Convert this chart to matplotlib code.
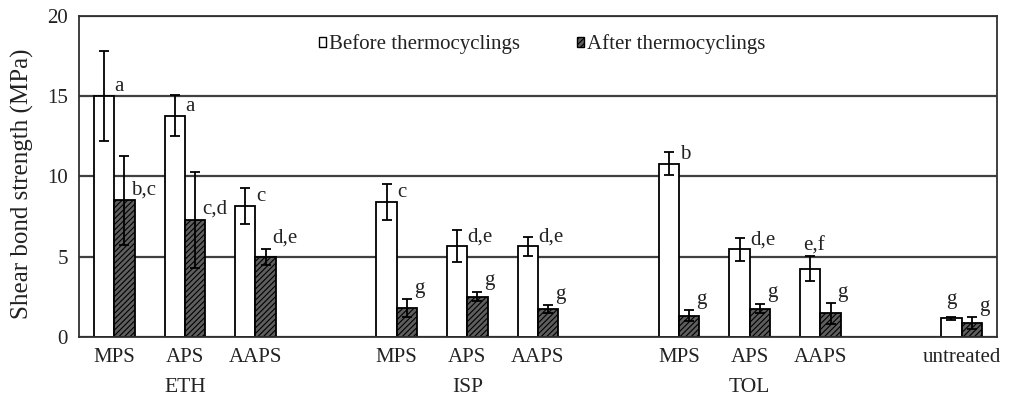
import numpy as np
from matplotlib import pyplot as plt
from matplotlib.patches import Patch

plt.rcParams['font.family'] = ['Liberation Serif', 'DejaVu Serif']
plt.rcParams['hatch.linewidth'] = 0.8

# 13 category slots, empty ones separate the solvent groups
xlabels = ['MPS', 'APS', 'AAPS', '', 'MPS', 'APS', 'AAPS', '', 'MPS', 'APS', 'AAPS', '', 'untreated']
groups = ['ETH', 'ISP', 'TOL']
group_pos = [1, 5, 9]
nan = np.nan
before = [15.0, 13.8, 8.15, nan, 8.4, 5.65, 5.65, nan, 10.8, 5.45, 4.25, nan, 1.15]
before_err = [2.8, 1.3, 1.1, nan, 1.1, 1.0, 0.6, nan, 0.7, 0.7, 0.8, nan, 0.1]
after = [8.5, 7.3, 5.0, nan, 1.8, 2.5, 1.7, nan, 1.3, 1.75, 1.45, nan, 0.85]
after_err = [2.8, 3.0, 0.5, nan, 0.55, 0.3, 0.25, nan, 0.35, 0.3, 0.65, nan, 0.35]
before_lbl = ['a', 'a', 'c', '', 'c', 'd,e', 'd,e', '', 'b', 'd,e', 'e,f', '', 'g']
after_lbl = ['b,c', 'c,d', 'd,e', '', 'g', 'g', 'g', '', 'g', 'g', 'g', '', 'g']

txt = '#222222'
hatch_fc = '#5e5e5e'
w = 0.288
x = np.arange(len(xlabels))

fig = plt.figure(figsize=(10.1, 4.03), dpi=100)
ax = fig.add_axes([0.0782, 0.1645, 0.9088, 0.7955])

err_kw = dict(ecolor='black', elinewidth=1.3, capsize=3.5, capthick=1.3)
ax.bar(x - w / 2, before, w, yerr=before_err, color='white', edgecolor='black',
       linewidth=1.3, error_kw=err_kw, zorder=2)
ax.bar(x + w / 2, after, w, yerr=after_err, color=hatch_fc, edgecolor='black',
       linewidth=1.3, hatch='//////', error_kw=err_kw, zorder=2)

# significance letters
lbl_kw = dict(va='baseline', fontsize=15, color=txt)
for i in range(len(x)):
    if before_lbl[i]:
        top = before[i] + before_err[i]
        if before_lbl[i] == 'e,f':
            ax.text(x[i] - w / 2 + 0.06, top + 0.35, before_lbl[i], ha='center', **lbl_kw)
        elif before_err[i] < 0.3:
            # tiny bar: letter sits above it
            ax.text(x[i] - w / 2, top + 0.8, before_lbl[i], ha='center', **lbl_kw)
        else:
            ax.text(x[i] - w / 2 + 0.15, before[i] + 0.3, before_lbl[i], ha='left', **lbl_kw)
    if after_lbl[i]:
        top = after[i] + after_err[i]
        y = after[i] + 0.38
        if -0.3 < top - y < 1.0:
            y = top + 0.4
        ax.text(x[i] + w / 2 + 0.1, y, after_lbl[i], ha='left', **lbl_kw)

ax.set_xlim(-0.5, len(xlabels) - 0.5)
ax.set_ylim(0, 20)
ax.set_yticks([0, 5, 10, 15, 20])
ax.set_xticks(x)
ax.set_xticklabels(xlabels)
ax.tick_params(axis='both', length=0, labelsize=15, labelcolor=txt)
ax.tick_params(axis='y', pad=8)
ax.tick_params(axis='x', pad=8)
ax.set_axisbelow(True)
ax.yaxis.grid(True, color='#404040', linewidth=1.6)
for s in ax.spines.values():
    s.set_color('#303030')
    s.set_linewidth(1.3)

for g, p in zip(groups, group_pos):
    ax.text(p, -0.157, g, transform=ax.get_xaxis_transform(), ha='center', va='center',
            fontsize=15.5, color=txt)

ax.set_ylabel('Shear bond strength (MPa)', fontsize=18, color=txt, va='center')
ax.yaxis.set_label_coords(-0.062, 0.476)

handles = [Patch(facecolor='white', edgecolor='black', linewidth=1),
           Patch(facecolor=hatch_fc, edgecolor='black', linewidth=1, hatch='//////')]
ax.legend(handles, ['Before thermocyclings', 'After thermocyclings'], loc='center left',
          bbox_to_anchor=(0.25, 0.912), ncol=2, frameon=False, fontsize=15,
          handlelength=0.35, handleheight=0.35, handletextpad=0.15, columnspacing=2.7,
          borderpad=0, labelcolor=txt)

fig.savefig('out.png', dpi=100)
